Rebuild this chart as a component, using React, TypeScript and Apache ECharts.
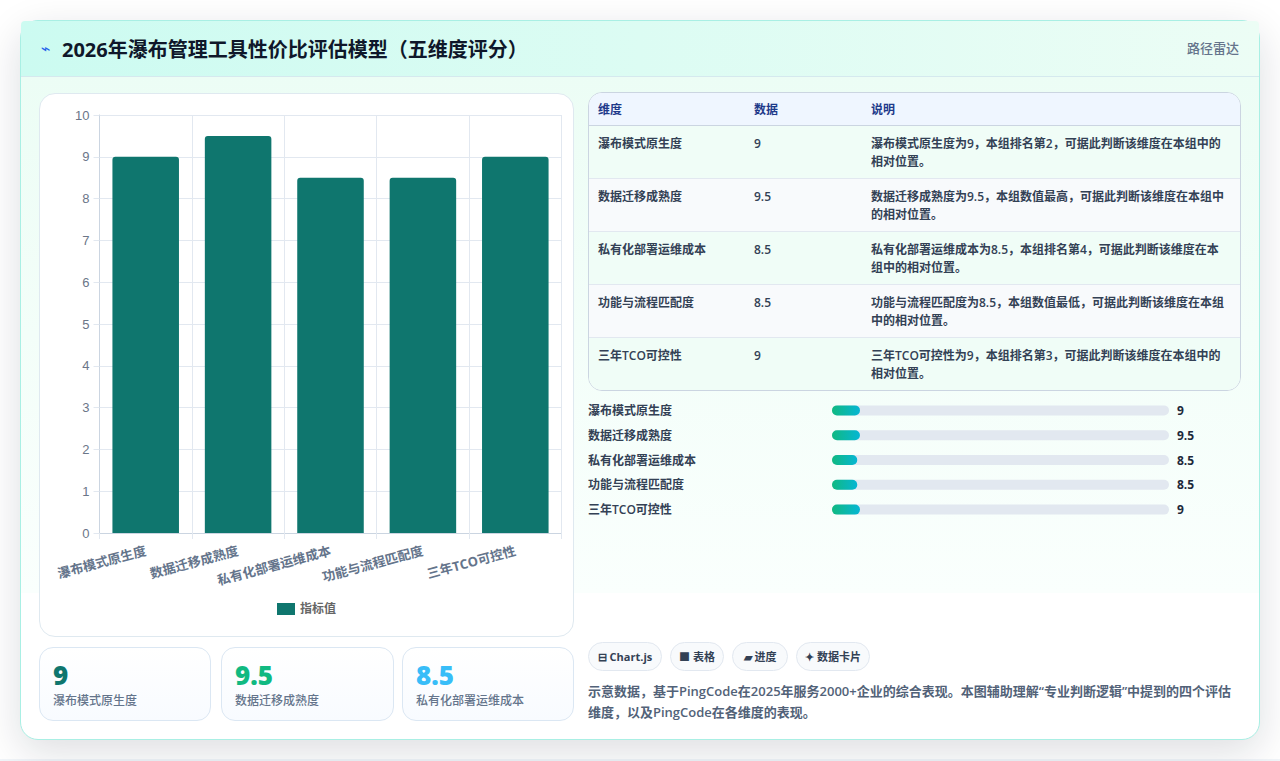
import { useEffect, useRef } from "react";
import * as echarts from "echarts";

const categories = ["瀑布模式原生度", "数据迁移成熟度", "私有化部署运维成本", "功能与流程匹配度", "三年TCO可控性"];
const values = [9, 9.5, 8.5, 8.5, 9];
// fill of the progress tracks, percent of track as measured in the picture
const progressFill = [8.3, 8.3, 7.5, 7.5, 8.3];
const notes = [
    "瀑布模式原生度为9\uFF0C本组排名第2\uFF0C可据此判断该维度在本组中的相对位置。",
    "数据迁移成熟度为9.5\uFF0C本组数值最高\uFF0C可据此判断该维度在本组中的相对位置。",
    "私有化部署运维成本为8.5\uFF0C本组排名第4\uFF0C可据此判断该维度在本组中的相对位置。",
    "功能与流程匹配度为8.5\uFF0C本组数值最低\uFF0C可据此判断该维度在本组中的相对位置。",
    "三年TCO可控性为9\uFF0C本组排名第3\uFF0C可据此判断该维度在本组中的相对位置。",
];
const titleText = "2026年瀑布管理工具性价比评估模型\uFF08五维度评分\uFF09";
const noteText =
    "示意数据\uFF0C基于PingCode在2025年服务2000+企业的综合表现。本图辅助理解\u201C专业判断逻辑\u201D中提到的四个评估维度\uFF0C以及PingCode在各维度的表现。";
const tableHead = ["维度", "数据", "说明"];
const statColors = ["#0f766e", "#10b981", "#38bdf8"];
const chips = ["⊟ Chart.js", "■ 表格", "▰ 进度", "✦ 数据卡片"];
const chipLefts = [0, 82, 144, 208];
const chipWidths = [74, 54, 56, 74];

const FONT = '"Open Sans", "Noto Sans CJK SC", sans-serif';

const box = (x: number, y: number, w: number, h: number): React.CSSProperties => ({
    position: "absolute",
    left: x,
    top: y,
    width: w,
    height: h,
    boxSizing: "border-box",
});

export default function App() {
    const barRef = useRef<HTMLDivElement | null>(null);
    const progressRef = useRef<HTMLDivElement | null>(null);

    useEffect(() => {
        document.body.style.margin = "0";
        document.body.style.background = "#ffffff";
        if (!barRef.current || !progressRef.current) return;

        const chart = echarts.init(barRef.current, undefined, { renderer: "svg" });
        chart.setOption({
            animation: false,
            textStyle: { fontFamily: FONT },
            grid: { left: 60.5, right: 12.5, top: 22, bottom: 104, outerBoundsMode: "none" },
            legend: {
                bottom: 17,
                left: "center",
                icon: "rect",
                itemWidth: 18,
                itemHeight: 12,
                itemGap: 5,
                selectedMode: false,
                itemStyle: { borderWidth: 0 },
                textStyle: { color: "#666666", fontSize: 12, fontWeight: 600, fontFamily: FONT },
            },
            xAxis: {
                type: "category",
                data: categories,
                axisLine: { lineStyle: { color: "#cbd5e1" } },
                axisTick: { show: true, length: 6, lineStyle: { color: "#e2e8f0" } },
                splitLine: { show: true, lineStyle: { color: "#e2e8f0" } },
                axisLabel: {
                    rotate: 15,
                    interval: 0,
                    margin: 17,
                    color: "#64748b",
                    fontSize: 13,
                    fontWeight: 700,
                    fontFamily: FONT,
                },
            },
            yAxis: {
                type: "value",
                min: 0,
                max: 10,
                interval: 1,
                axisLine: { show: true, lineStyle: { color: "#cbd5e1" } },
                axisTick: { show: true, length: 6, lineStyle: { color: "#e2e8f0" } },
                splitLine: { show: true, lineStyle: { color: "#e2e8f0" } },
                axisLabel: { color: "#6b7688", fontSize: 13, margin: 10, fontFamily: "Liberation Sans" },
            },
            series: [
                {
                    name: "指标值",
                    type: "bar",
                    data: values,
                    barWidth: "72%",
                    itemStyle: {
                        color: "#0f766e",
                        borderRadius: [3, 3, 0, 0],
                    },
                },
            ],
        });

        const progress = echarts.init(progressRef.current, undefined, { renderer: "svg" });
        progress.setOption({
            animation: false,
            textStyle: { fontFamily: FONT },
            grid: { left: 244, right: 72, top: 0, bottom: 0, outerBoundsMode: "none" },
            xAxis: { type: "value", min: 0, max: 100, show: false },
            yAxis: [
                {
                    type: "category",
                    inverse: true,
                    data: categories,
                    axisLine: { show: false },
                    axisTick: { show: false },
                    axisLabel: {
                        align: "left",
                        margin: 244,
                        color: "#334155",
                        fontSize: 12,
                        fontWeight: 600,
                        fontFamily: FONT,
                    },
                },
                {
                    type: "category",
                    inverse: true,
                    position: "right",
                    data: values.map(String),
                    axisLine: { show: false },
                    axisTick: { show: false },
                    axisLabel: {
                        align: "left",
                        margin: 8,
                        color: "#1e293b",
                        fontSize: 12,
                        fontWeight: 700,
                        fontFamily: FONT,
                    },
                },
            ],
            series: [
                {
                    type: "bar",
                    data: progressFill,
                    barWidth: 10,
                    showBackground: true,
                    backgroundStyle: { color: "#e2e8f0", borderRadius: 5 },
                    itemStyle: {
                        borderRadius: 5,
                        color: new echarts.graphic.LinearGradient(0, 0, 1, 0, [
                            { offset: 0, color: "#10b981" },
                            { offset: 1, color: "#06b6d4" },
                        ]),
                    },
                },
            ],
        });

        return () => {
            chart.dispose();
            progress.dispose();
        };
    }, []);

    return (
        <div style={{ position: "relative", width: 1280, height: 761, overflow: "hidden", fontFamily: FONT, background: "#fff" }}>
            <div style={{ ...box(0, 759, 1280, 2), background: "#f1f5f9" }} />
            {/* card */}
            <div
                style={{
                    ...box(20, 20, 1240, 720),
                    borderRadius: 18,
                    border: "1px solid #a9efe4",
                    boxShadow: "0 12px 40px rgba(15,23,42,0.14)",
                    background: "#ffffff",
                }}
            >
                <div style={{ ...box(0, 55, 1238, 517), background: "linear-gradient(180deg,#ecfdf5 0%,#fafffd 100%)" }} />
                <div
                    style={{
                        ...box(0, 0, 1238, 56),
                        borderRadius: "4px 4px 0 0",
                        background: "linear-gradient(90deg,#ccfbf1 0%,#ecfdf5 100%)",
                        borderBottom: "1px solid #d5e9ee",
                    }}
                />
            </div>

            {/* header */}
            <div style={{ ...box(41, 37, 18, 24), fontSize: 16, lineHeight: "24px", color: "#2563eb", fontFamily: "DejaVu Sans" }}>⌁</div>
            <div style={{ ...box(62, 35, 600, 30), fontSize: 20, lineHeight: "30px", fontWeight: 700, color: "#0f172a", whiteSpace: "nowrap" }}>
                {titleText}
            </div>
            <div style={{ ...box(1187, 38, 60, 20), fontSize: 13, lineHeight: "20px", fontWeight: 500, color: "#64748b", whiteSpace: "nowrap" }}>路径雷达</div>

            {/* bar chart panel */}
            <div style={{ ...box(39, 93, 535, 544), background: "#fff", border: "1px solid #dfe9f0", borderRadius: 16 }} />
            <div ref={barRef} style={{ ...box(39, 93, 535, 544) }} />

            {/* stat cards */}
            {[0, 1, 2].map((i) => (
                <div
                    key={i}
                    style={{
                        ...box([39, 221, 402][i], 647, [172, 173, 172][i], 74),
                        borderRadius: 14,
                        border: "1px solid #dbe7f3",
                        background: "linear-gradient(180deg,#ffffff 0%,#f8fbff 100%)",
                    }}
                >
                    <div style={{ position: "absolute", left: 13, top: 12, fontSize: 26, lineHeight: "30px", fontWeight: 800, color: statColors[i] }}>{values[i]}</div>
                    <div style={{ position: "absolute", left: 13, top: 44, fontSize: 12, lineHeight: "18px", fontWeight: 500, color: "#64748b", whiteSpace: "nowrap" }}>{categories[i]}</div>
                </div>
            ))}

            {/* table */}
            <div style={{ ...box(588, 92, 653, 299), borderRadius: 14, border: "1px solid #cbd5e1", overflow: "hidden", background: "#fff" }}>
                <div style={{ ...box(0, 0, 651, 33), background: "#eff6ff", borderBottom: "1px solid #cbd5e1", fontSize: 12, fontWeight: 700, color: "#1e3a8a", lineHeight: "33px" }}>
                    {tableHead.map((h, i) => (
                        <span key={h} style={{ position: "absolute", left: [9, 165, 282][i] }}>{h}</span>
                    ))}
                </div>
                {categories.map((c, i) => (
                    <div
                        key={c}
                        style={{
                            ...box(0, 33 + i * 53, 651, 53),
                            background: i % 2 === 0 ? "#f0fdf7" : "#f8fafc",
                            borderBottom: i < 4 ? "1px solid #e2e8f0" : "none",
                            fontSize: 12,
                            fontWeight: 600,
                            color: "#334155",
                            lineHeight: "18px",
                        }}
                    >
                        <span style={{ position: "absolute", left: 9, top: 9 }}>{c}</span>
                        <span style={{ position: "absolute", left: 165, top: 9 }}>{values[i]}</span>
                        <span style={{ position: "absolute", left: 282, top: 9, width: 358 }}>{notes[i]}</span>
                    </div>
                ))}
            </div>

            {/* progress rows */}
            <div ref={progressRef} style={{ ...box(588, 398, 653, 123.5) }} />

            {/* chips */}
            {chips.map((c, i) => (
                <div
                    key={c}
                    style={{
                        ...box(588 + chipLefts[i], 642, chipWidths[i], 29),
                        borderRadius: 15,
                        border: "1px solid #e2e8f0",
                        background: "#f8fafc",
                        fontSize: 11,
                        lineHeight: "27px",
                        fontWeight: 700,
                        color: "#334155",
                        textAlign: "center",
                        whiteSpace: "nowrap",
                    }}
                >
                    {c}
                </div>
            ))}

            {/* note */}
            <div style={{ ...box(588, 681, 653, 42), fontSize: 13, lineHeight: "21px", fontWeight: 600, color: "#526278" }}>
                {noteText}
            </div>
        </div>
    );
}
